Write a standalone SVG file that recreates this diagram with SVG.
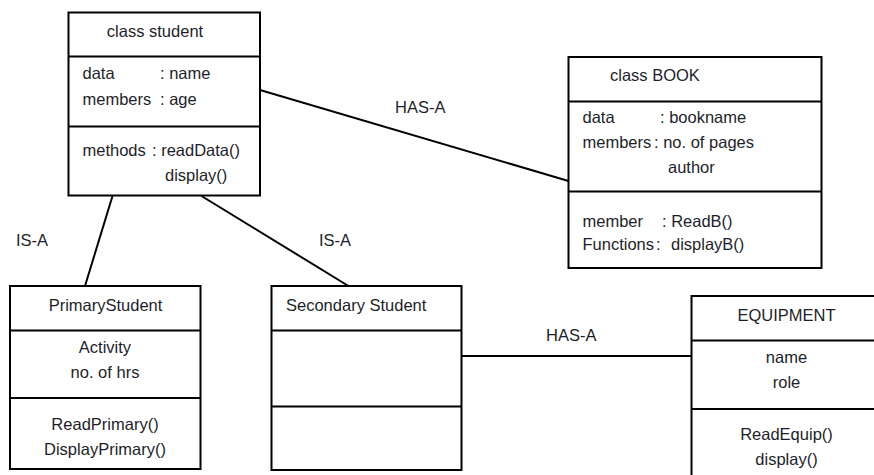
<svg xmlns="http://www.w3.org/2000/svg" width="874" height="475" viewBox="0 0 874 475">
<style>
.box{fill:#fff;stroke:#000;stroke-width:2}
.div{stroke:#000;stroke-width:2}
.conn{stroke:#000;stroke-width:2;fill:none}
text{font-family:"Liberation Sans",Arial,sans-serif;font-size:16.5px;fill:#1e1e2a}
.c{text-anchor:middle}
</style>
<rect width="874" height="475" fill="#fff"/>
<g id="connectors">
<line class="conn" x1="260" y1="90" x2="568.5" y2="181"/>
<line class="conn" x1="112.5" y1="196" x2="85" y2="286"/>
<line class="conn" x1="201.5" y1="196" x2="348.5" y2="286"/>
<line class="conn" x1="461.5" y1="356" x2="691.5" y2="356"/>
<text x="395" y="113">HAS-A</text>
<text x="546" y="341">HAS-A</text>
<text x="16" y="246">IS-A</text>
<text x="319" y="246">IS-A</text>
</g>
<g id="student">
<rect class="box" x="68.5" y="12.5" width="191.5" height="183"/>
<line class="div" x1="68.5" y1="56.5" x2="260" y2="56.5"/>
<line class="div" x1="68.5" y1="126.5" x2="260" y2="126.5"/>
<text class="c" x="155" y="37">class student</text>
<text x="82.5" y="79">data</text>
<text x="160" y="79">: name</text>
<text x="82.5" y="105">members</text>
<text x="160" y="105">: age</text>
<text x="82.5" y="156">methods</text>
<text x="152" y="156">: readData()</text>
<text x="165" y="181">display()</text>
</g>
<g id="book">
<rect class="box" x="568.5" y="57" width="253" height="211"/>
<line class="div" x1="568.5" y1="101.5" x2="821.5" y2="101.5"/>
<line class="div" x1="568.5" y1="191.5" x2="821.5" y2="191.5"/>
<text x="610" y="81">class BOOK</text>
<text x="582.5" y="123">data</text>
<text x="660" y="123">: bookname</text>
<text x="582.5" y="148">members</text>
<text x="654" y="148">: no. of pages</text>
<text x="668" y="173">author</text>
<text x="582.5" y="227">member</text>
<text x="662" y="227">: ReadB()</text>
<text x="582.5" y="250">Functions</text>
<text x="656" y="250">:</text>
<text x="671" y="250">displayB()</text>
</g>
<g id="primary">
<rect class="box" x="10" y="286" width="190.5" height="183"/>
<line class="div" x1="10" y1="330.5" x2="200.5" y2="330.5"/>
<line class="div" x1="10" y1="398" x2="200.5" y2="398"/>
<text class="c" x="105.5" y="311">PrimaryStudent</text>
<text class="c" x="105" y="353">Activity</text>
<text class="c" x="105" y="378">no. of hrs</text>
<text class="c" x="105" y="430">ReadPrimary()</text>
<text class="c" x="105" y="455">DisplayPrimary()</text>
</g>
<g id="secondary">
<rect class="box" x="271.5" y="286" width="190" height="184"/>
<line class="div" x1="271.5" y1="330.5" x2="461.5" y2="330.5"/>
<line class="div" x1="271.5" y1="406.5" x2="461.5" y2="406.5"/>
<text x="286" y="311">Secondary Student</text>
</g>
<g id="equipment">
<rect class="box" x="691.5" y="296" width="200" height="200"/>
<line class="div" x1="691.5" y1="340.5" x2="874" y2="340.5"/>
<line class="div" x1="691.5" y1="409" x2="874" y2="409"/>
<text class="c" x="786.5" y="321">EQUIPMENT</text>
<text class="c" x="786.5" y="363">name</text>
<text class="c" x="786.5" y="388">role</text>
<text class="c" x="786.5" y="440">ReadEquip()</text>
<text class="c" x="786.5" y="465">display()</text>
</g>
</svg>
